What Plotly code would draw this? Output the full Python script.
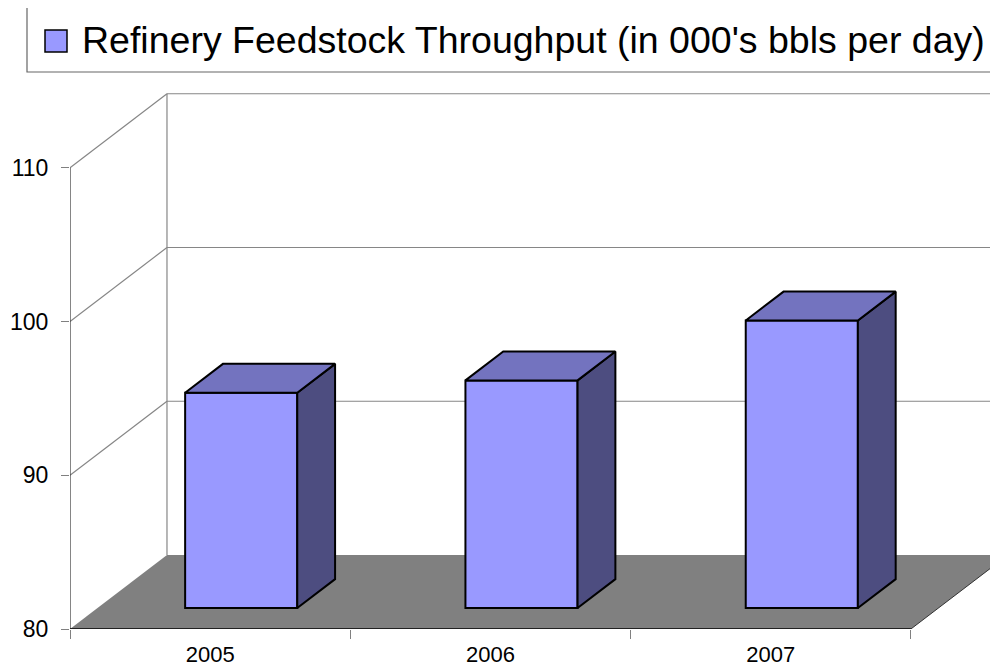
import plotly.graph_objects as go

# ---- data ----
categories = ["2005", "2006", "2007"]
values = [94.0, 94.8, 98.7]
y_ticks = [80, 90, 100, 110]
series_name = "Refinery Feedstock Throughput (in 000's bbls per day)"

# ---- style / geometry constants ----
Y_MIN, Y_MAX = 80, 110
DX, DY = 0.346, 4.81          # depth offset (front plane -> back wall) in axis units
T0, T1 = 0.284, 0.674         # bar depth span as fraction of total depth
BAR_W = 0.4
BAR_SHIFT = 0.0125
FRONT, TOP, SIDE = "#9999FF", "#7373BF", "#4D4D80"
GRID = "#868686"

PAGE_OFF = 8                  # default body margin of the html page
W, H = 998 - PAGE_OFF, 670 - PAGE_OFF
ML, MR, MT, MB = 70 - PAGE_OFF, 0, 90 - PAGE_OFF, 41
px_per_x = 280.3
px_per_y = 15.377
plot_w = W - ML - MR
plot_h = H - MT - MB
n = len(categories)
xpos = list(range(n))
x_lo = -0.5
x_hi = x_lo + plot_w / px_per_x
y_hi = Y_MIN + plot_h / px_per_y
x_front_end = n - 0.5

fig = go.Figure()
shapes = []

# floor
fx = [x_lo, x_front_end, x_front_end + DX, x_lo + DX]
fy = [Y_MIN, Y_MIN, Y_MIN + DY, Y_MIN + DY]
path = "M " + " L ".join(f"{a},{b}" for a, b in zip(fx, fy)) + " Z"
shapes.append(dict(type="path", path=path, xref="x", yref="y", layer="below",
                   fillcolor="#808080", line=dict(width=0)))
# floor right edge
shapes.append(dict(type="line", xref="x", yref="y", layer="below",
                   x0=x_front_end, y0=Y_MIN, x1=x_front_end + DX, y1=Y_MIN + DY,
                   line=dict(color="#333333", width=1)))
# wall gridlines
for v in y_ticks[1:]:
    shapes.append(dict(type="line", xref="x", yref="y", layer="below",
                       x0=x_lo, y0=v, x1=x_lo + DX, y1=v + DY,
                       line=dict(color=GRID, width=1.2)))
    shapes.append(dict(type="line", xref="x", yref="y", layer="below",
                       x0=x_lo + DX, y0=v + DY, x1=x_front_end + DX, y1=v + DY,
                       line=dict(color=GRID, width=1.2)))
# back wall left edge
shapes.append(dict(type="line", xref="x", yref="y", layer="below",
                   x0=x_lo + DX, y0=Y_MIN + DY, x1=x_lo + DX, y1=Y_MAX + DY,
                   line=dict(color=GRID, width=1.2)))
# front axes
shapes.append(dict(type="line", xref="x", yref="y", layer="above",
                   x0=x_lo, y0=Y_MIN, x1=x_lo, y1=Y_MAX,
                   line=dict(color="#333333", width=1.2)))
shapes.append(dict(type="line", xref="x", yref="y", layer="above",
                   x0=x_lo, y0=Y_MIN, x1=x_front_end, y1=Y_MIN,
                   line=dict(color="#222222", width=2.2)))

# bars: front faces via go.Bar
fig.add_trace(go.Bar(
    x=[c + BAR_SHIFT + T0 * DX for c in xpos],
    y=[v - Y_MIN for v in values],
    base=Y_MIN + T0 * DY,
    width=BAR_W,
    marker=dict(color=FRONT, line=dict(color="black", width=2)),
    name=series_name, showlegend=False, hoverinfo="skip",
))

# side and top faces
for c, v in zip(xpos, values):
    l = c + BAR_SHIFT - BAR_W / 2
    r = c + BAR_SHIFT + BAR_W / 2
    sx = [r + T0 * DX, r + T0 * DX, r + T1 * DX, r + T1 * DX, r + T0 * DX]
    sy = [Y_MIN + T0 * DY, v + T0 * DY, v + T1 * DY, Y_MIN + T1 * DY, Y_MIN + T0 * DY]
    fig.add_trace(go.Scatter(x=sx, y=sy, fill="toself", fillcolor=SIDE, mode="lines",
                             line=dict(color="black", width=2), showlegend=False,
                             hoverinfo="skip"))
    tx = [l + T0 * DX, r + T0 * DX, r + T1 * DX, l + T1 * DX, l + T0 * DX]
    ty = [v + T0 * DY, v + T0 * DY, v + T1 * DY, v + T1 * DY, v + T0 * DY]
    fig.add_trace(go.Scatter(x=tx, y=ty, fill="toself", fillcolor=TOP, mode="lines",
                             line=dict(color="black", width=2), showlegend=False,
                             hoverinfo="skip"))

# legend box (manual); coordinates given in page pixels
def px2paper_x(p):
    return (p - PAGE_OFF - ML) / plot_w

def px2paper_y(p):
    return (H - MB - (p - PAGE_OFF)) / plot_h

shapes.append(dict(type="rect", xref="paper", yref="paper",
                   x0=px2paper_x(27), x1=px2paper_x(1010),
                   y0=px2paper_y(72), y1=px2paper_y(6),
                   line=dict(color="#666666", width=1.2), fillcolor="white"))
shapes.append(dict(type="rect", xref="paper", yref="paper",
                   x0=px2paper_x(45), x1=px2paper_x(67),
                   y0=px2paper_y(52), y1=px2paper_y(30),
                   line=dict(color="black", width=1.5), fillcolor=FRONT))

FONT = "Liberation Sans, Arial, sans-serif"
fig.update_layout(
    width=W, height=H,
    margin=dict(l=ML, r=MR, t=MT, b=MB),
    paper_bgcolor="white", plot_bgcolor="white",
    shapes=shapes,
    showlegend=False,
    annotations=[dict(text=series_name, xref="paper", yref="paper",
                      x=px2paper_x(80), y=px2paper_y(40),
                      xanchor="left", yanchor="middle", showarrow=False,
                      font=dict(family=FONT, size=37.5, color="black"))],
    font=dict(family=FONT, color="black"),
)
fig.update_xaxes(range=[x_lo, x_hi], tickmode="array", tickvals=xpos, ticktext=categories,
                 ticks="", showgrid=False, zeroline=False, showline=False,
                 automargin=False,
                 tickfont=dict(size=22, family=FONT, color="black"),
                 ticklabelstandoff=10,
                 minor=dict(tickmode="array", tickvals=[i - 0.5 for i in range(n + 1)],
                            ticks="outside", ticklen=9, tickcolor="#808080", tickwidth=1,
                            showgrid=False))
fig.update_yaxes(range=[Y_MIN, y_hi], tickmode="array", tickvals=y_ticks,
                 ticks="outside", ticklen=8, tickcolor="#808080", tickwidth=1,
                 showgrid=False, zeroline=False, showline=False,
                 automargin=False,
                 tickfont=dict(size=23, family=FONT, color="black"),
                 ticklabelstandoff=8)

fig.write_html("out.html")
